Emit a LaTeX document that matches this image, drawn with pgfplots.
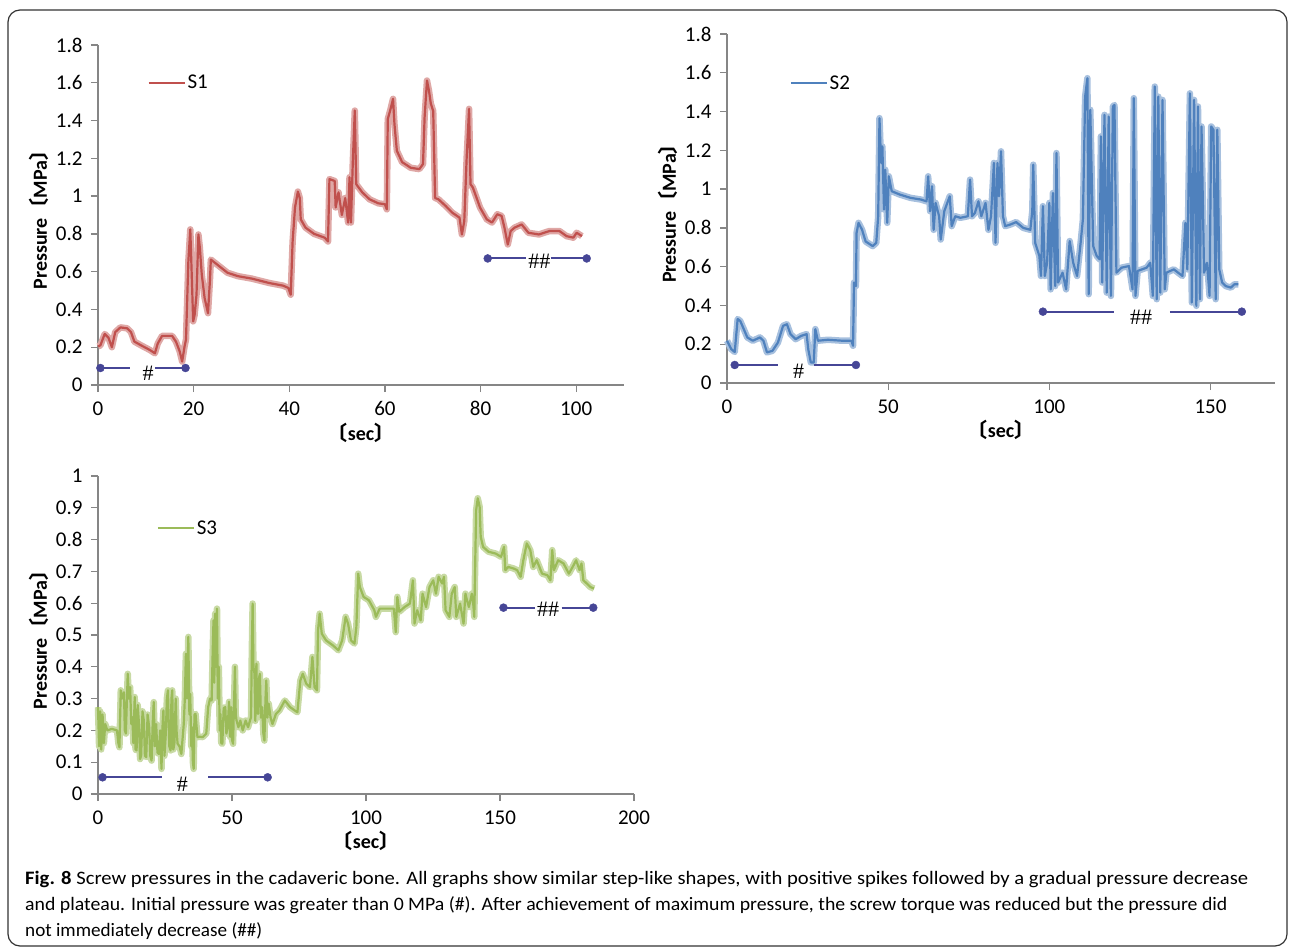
\documentclass[border=0pt]{standalone}
\usepackage{graphicx}
\usepackage{pgfplots}
\pgfplotsset{compat=1.18}
\usepackage{pgfplotstable}
\usepackage{fontspec}
\setmainfont{Carlito}
\newfontfamily\cjk{Noto Sans CJK JP}
\newfontfamily\serifhash{Liberation Serif}
\definecolor{axgray}{RGB}{134,134,134}
\definecolor{cS1}{RGB}{192,80,77}
\definecolor{cS2}{RGB}{79,129,189}
\definecolor{cS3}{RGB}{155,187,89}
\definecolor{mk}{RGB}{70,70,150}
\newcommand{\lb}{{\cjk 〔}}
\newcommand{\rb}{{\cjk 〕}}

\pgfplotstableread[row sep=\\]{
x y\\
0 0.204\\ 0.5 0.21\\ 1.4 0.27\\ 2.2 0.25\\ 2.9 0.20\\ 3.6 0.28\\ 4.7 0.305\\ 6.1 0.30\\ 6.9 0.28\\ 7.6 0.23\\
9.0 0.21\\ 10.8 0.186\\ 11.9 0.168\\ 12.5 0.22\\ 13.4 0.26\\ 15.5 0.26\\ 16.3 0.23\\ 17.1 0.177\\ 17.6 0.124\\ 18.1 0.204\\
18.4 0.24\\ 18.9 0.656\\ 19.3 0.824\\ 19.6 0.585\\ 19.9 0.337\\ 20.2 0.37\\ 20.6 0.478\\ 21.0 0.797\\ 21.3 0.726\\ 21.7 0.585\\
22.3 0.46\\ 23.0 0.38\\ 23.4 0.55\\ 23.6 0.664\\ 24.9 0.638\\ 27.1 0.594\\ 29.3 0.576\\ 32.2 0.563\\ 35.8 0.54\\ 38.7 0.526\\
39.8 0.514\\ 40.3 0.478\\ 40.7 0.76\\ 41.2 0.94\\ 41.8 1.024\\ 42.2 0.99\\ 42.4 0.877\\ 43.4 0.833\\ 45.2 0.80\\ 47.4 0.78\\
48.1 0.76\\ 48.4 1.09\\ 49.5 1.08\\ 49.7 0.94\\ 50.3 1.02\\ 51.0 0.90\\ 51.7 0.99\\ 52.3 0.86\\ 52.6 1.10\\ 52.9 0.86\\
53.3 1.19\\ 53.7 1.453\\ 54.0 1.063\\ 55.3 1.019\\ 56.8 0.983\\ 58.6 0.962\\ 60.0 0.957\\ 60.4 0.93\\ 60.6 1.408\\ 61.1 1.453\\
61.7 1.515\\ 62.0 1.38\\ 62.5 1.24\\ 63.6 1.18\\ 65.4 1.15\\ 67.2 1.143\\ 67.97 1.17\\ 68.3 1.417\\ 68.8 1.612\\ 69.2 1.56\\
69.6 1.49\\ 70.1 1.45\\ 70.5 0.99\\ 71.2 0.983\\ 72.7 0.948\\ 74.1 0.912\\ 75.6 0.886\\ 76.1 0.797\\ 76.6 0.868\\ 77.1 1.205\\
77.6 1.462\\ 77.9 1.063\\ 78.4 1.045\\ 79.9 0.939\\ 81.3 0.877\\ 82.4 0.86\\ 83.5 0.904\\ 84.4 0.895\\ 85.0 0.833\\ 85.7 0.744\\
86.3 0.815\\ 87.1 0.833\\ 88.6 0.85\\ 90.0 0.806\\ 92.2 0.797\\ 94.4 0.815\\ 96.5 0.815\\ 98.0 0.788\\ 99.4 0.78\\ 100.1 0.806\\
101.2 0.788\\
}\tabSone

\pgfplotstableread[row sep=\\]{
x y\\
0 0.218\\ 1.3 0.175\\ 2.4 0.16\\ 3.3 0.33\\ 4.1 0.32\\ 5.2 0.278\\ 6.3 0.235\\ 8.0 0.218\\ 10.2 0.235\\ 11.3 0.218\\
12.4 0.158\\ 14.1 0.166\\ 15.8 0.209\\ 17.4 0.295\\ 18.6 0.303\\ 19.7 0.252\\ 21.3 0.226\\ 23.0 0.243\\ 24.7 0.252\\ 25.2 0.175\\
26.0 0.106\\ 26.9 0.106\\ 27.4 0.278\\ 28.2 0.218\\ 31.3 0.223\\ 35.8 0.218\\ 38.6 0.218\\ 39.1 0.192\\ 39.4 0.518\\ 40.0 0.50\\
40.2 0.775\\ 40.8 0.826\\ 41.9 0.79\\ 43.0 0.73\\ 45.2 0.706\\ 46.3 0.723\\ 46.9 0.86\\ 47.3 1.366\\ 47.8 1.135\\ 48.2 1.22\\
48.7 0.895\\ 49.1 1.10\\ 49.7 0.826\\ 50.2 1.066\\ 51.1 0.989\\ 53.6 0.972\\ 56.9 0.955\\ 60.2 0.946\\ 61.9 0.937\\ 62.4 1.066\\
63.0 0.886\\ 63.6 1.015\\ 64.1 0.79\\ 64.7 0.929\\ 65.8 0.86\\ 66.3 0.74\\ 67.4 0.886\\ 69.1 0.963\\ 69.7 0.809\\ 70.8 0.86\\
72.4 0.852\\ 74.7 0.86\\ 75.4 1.049\\ 76.0 0.86\\ 76.9 0.877\\ 78.0 0.937\\ 78.9 0.86\\ 80.2 0.929\\ 81.1 0.79\\ 81.9 0.86\\
82.8 1.135\\ 83.3 0.723\\ 83.9 1.135\\ 84.4 0.963\\ 85.0 1.195\\ 85.6 0.86\\ 86.3 0.809\\ 88.0 0.818\\ 89.7 0.83\\ 91.9 0.80\\
94.1 0.79\\ 94.7 0.886\\ 95.0 1.126\\ 95.6 0.723\\ 96.9 0.655\\ 97.4 0.552\\ 98.0 0.912\\ 98.6 0.552\\ 99.3 0.62\\ 100.0 0.929\\
100.4 0.483\\ 101.1 0.98\\ 101.8 0.50\\ 102.2 1.186\\ 102.7 0.518\\ 104.1 0.569\\ 105.2 0.483\\ 106.3 0.732\\ 107.4 0.62\\ 108.6 0.552\\
109.7 0.723\\ 110.4 0.843\\ 111.1 1.477\\ 111.8 1.572\\ 112.2 0.458\\ 112.7 1.409\\ 113.6 0.706\\ 114.7 0.655\\ 115.6 0.638\\ 116.0 1.272\\
116.4 0.518\\ 117.1 1.383\\ 117.8 0.466\\ 118.4 1.374\\ 119.1 0.449\\ 119.7 1.426\\ 120.2 1.434\\ 120.8 0.569\\ 122.4 0.595\\ 124.7 0.603\\
125.8 0.483\\ 126.2 1.469\\ 126.7 0.449\\ 127.4 0.578\\ 130.2 0.595\\ 131.3 0.62\\ 132.1 0.449\\ 132.7 1.529\\ 133.3 0.432\\ 133.8 1.477\\
134.4 0.466\\ 135.1 1.46\\ 135.8 0.483\\ 136.3 0.569\\ 138.6 0.586\\ 141.3 0.552\\ 142.2 0.826\\ 142.8 0.586\\ 143.6 1.494\\ 144.2 0.415\\
144.9 1.46\\ 145.6 0.398\\ 146.1 1.426\\ 146.7 0.432\\ 147.2 1.323\\ 148.0 0.569\\ 148.9 0.62\\ 149.7 0.449\\ 150.2 1.323\\ 150.9 1.306\\
151.6 0.432\\ 152.1 1.306\\ 152.7 0.586\\ 153.6 0.518\\ 154.7 0.50\\ 156.3 0.492\\ 157.4 0.509\\ 158.6 0.509\\
}\tabStwo

\pgfplotstableread[row sep=\\]{
x y\\
0 0.273\\ 0.4 0.15\\ 0.8 0.26\\ 1.2 0.14\\ 1.7 0.25\\ 2.2 0.16\\ 2.7 0.22\\ 3.5 0.20\\ 5.1 0.205\\ 7.1 0.20\\
7.6 0.16\\ 8.0 0.147\\ 8.5 0.326\\ 9.0 0.30\\ 9.7 0.32\\ 10.0 0.20\\ 10.4 0.19\\ 10.8 0.30\\ 11.1 0.378\\ 11.5 0.30\\
12.0 0.336\\ 12.4 0.22\\ 12.8 0.242\\ 13.2 0.16\\ 13.7 0.305\\ 14.0 0.14\\ 14.4 0.137\\ 14.8 0.28\\ 15.3 0.22\\ 15.7 0.11\\
16.1 0.121\\ 16.6 0.26\\ 17.1 0.231\\ 17.5 0.12\\ 18.0 0.116\\ 18.5 0.25\\ 19.1 0.21\\ 19.5 0.12\\ 20.0 0.105\\ 20.4 0.22\\
20.8 0.289\\ 21.2 0.15\\ 21.7 0.22\\ 22.2 0.13\\ 22.7 0.126\\ 23.2 0.20\\ 23.7 0.079\\ 24.0 0.20\\ 24.4 0.263\\ 24.8 0.12\\
25.3 0.19\\ 25.7 0.30\\ 26.1 0.326\\ 26.6 0.15\\ 27.1 0.137\\ 27.4 0.30\\ 27.7 0.326\\ 28.1 0.14\\ 28.5 0.158\\ 29.0 0.30\\
29.3 0.20\\ 29.7 0.158\\ 30.4 0.15\\ 31.1 0.126\\ 32.0 0.22\\ 32.4 0.30\\ 32.8 0.441\\ 33.2 0.30\\ 33.7 0.494\\ 34.1 0.25\\
34.4 0.315\\ 34.8 0.15\\ 35.1 0.21\\ 35.4 0.10\\ 35.7 0.079\\ 36.0 0.25\\ 36.4 0.252\\ 37.1 0.179\\ 38.0 0.18\\ 39.1 0.179\\
40.4 0.19\\ 41.1 0.273\\ 41.8 0.30\\ 42.4 0.294\\ 42.8 0.45\\ 43.1 0.546\\ 43.4 0.35\\ 43.7 0.567\\ 44.0 0.40\\ 44.4 0.583\\
44.7 0.30\\ 45.1 0.40\\ 45.4 0.20\\ 45.7 0.252\\ 46.0 0.16\\ 46.4 0.158\\ 46.9 0.27\\ 47.5 0.273\\ 47.9 0.19\\ 48.4 0.21\\
48.9 0.29\\ 49.3 0.18\\ 49.7 0.273\\ 50.0 0.17\\ 50.4 0.158\\ 50.8 0.30\\ 51.1 0.40\\ 51.4 0.25\\ 51.7 0.231\\ 52.4 0.21\\
53.1 0.231\\ 54.0 0.20\\ 55.1 0.231\\ 56.0 0.21\\ 57.1 0.242\\ 57.4 0.45\\ 57.7 0.599\\ 58.0 0.40\\ 58.4 0.378\\ 58.7 0.23\\
59.1 0.41\\ 59.4 0.26\\ 59.7 0.252\\ 60.0 0.36\\ 60.4 0.378\\ 60.8 0.24\\ 61.3 0.273\\ 61.7 0.19\\ 62.1 0.168\\ 62.5 0.30\\
62.8 0.357\\ 63.2 0.24\\ 63.7 0.284\\ 64.4 0.24\\ 65.1 0.22\\ 66.4 0.252\\ 67.7 0.263\\ 69.7 0.294\\ 71.7 0.273\\ 74.4 0.257\\
75.5 0.357\\ 76.4 0.378\\ 77.7 0.347\\ 79.1 0.336\\ 80.0 0.431\\ 80.8 0.336\\ 81.7 0.326\\ 82.1 0.515\\ 82.7 0.567\\ 83.5 0.504\\
85.1 0.483\\ 87.7 0.467\\ 89.7 0.452\\ 91.1 0.483\\ 92.4 0.557\\ 93.3 0.536\\ 94.4 0.483\\ 95.7 0.473\\ 96.4 0.525\\ 97.1 0.693\\
97.7 0.651\\ 99.1 0.62\\ 101.1 0.609\\ 103.1 0.578\\ 103.7 0.557\\ 105.1 0.583\\ 107.7 0.583\\ 110.4 0.583\\ 111.1 0.509\\ 111.7 0.62\\
112.4 0.573\\ 114.4 0.588\\ 116.4 0.599\\ 117.5 0.672\\ 118.1 0.536\\ 119.1 0.578\\ 120.4 0.546\\ 121.1 0.63\\ 122.4 0.588\\ 123.7 0.651\\
125.1 0.672\\ 126.1 0.63\\ 127.1 0.683\\ 128.4 0.662\\ 129.1 0.683\\ 129.7 0.578\\ 131.1 0.557\\ 132.0 0.63\\ 133.1 0.651\\ 133.7 0.557\\
135.1 0.599\\ 136.4 0.536\\ 137.1 0.63\\ 137.7 0.609\\ 138.4 0.588\\ 139.5 0.63\\ 140.0 0.599\\ 140.4 0.557\\ 141.1 0.893\\ 141.7 0.93\\
142.4 0.903\\ 142.8 0.809\\ 143.7 0.777\\ 145.7 0.762\\ 148.4 0.756\\ 150.4 0.746\\ 151.5 0.777\\ 152.0 0.704\\ 153.1 0.714\\ 155.1 0.709\\
156.4 0.704\\ 157.7 0.683\\ 158.7 0.735\\ 160.0 0.788\\ 161.3 0.767\\ 162.4 0.714\\ 163.7 0.735\\ 164.7 0.714\\ 165.7 0.693\\ 167.7 0.688\\
168.8 0.672\\ 169.5 0.767\\ 170.1 0.704\\ 171.7 0.735\\ 173.7 0.725\\ 175.7 0.693\\ 177.1 0.714\\ 178.4 0.735\\ 179.7 0.704\\ 180.4 0.725\\
181.1 0.672\\ 182.4 0.662\\ 183.7 0.651\\ 185.1 0.646\\
}\tabSthree

\pgfplotsset{
  legend image code/.code={\draw[#1,line width=1.6pt] (0pt,0pt) -- (36pt,0pt);},
  panel/.style={scale only axis, anchor=south west, axis lines*=left,
    axis line style={draw=axgray,line width=1.3pt},
    every tick/.style={draw=axgray,line width=1.3pt},
    tick align=outside, major tick length=7pt,
    ticklabel style={font=\fontsize{21}{24}\selectfont},
    xticklabel style={yshift=-6pt},
    yticklabel style={xshift=-5pt},
    /pgf/number format/assume math mode=true,
    xlabel style={font=\bfseries\fontsize{20}{24}\selectfont},
    ylabel style={font=\bfseries\fontsize{20}{24}\selectfont},
    xlabel={\lb sec\rb}, ylabel={Pressure\lb MPa\rb},
    legend style={draw=none,fill=none,font=\fontsize{21}{24}\selectfont,anchor=west,inner sep=0pt},
    clip=false},
  halo/.style={line width=6.5pt, forget plot, line join=round},
  core/.style={line width=2.2pt, line join=round},
  mkl/.style={mk, line width=2pt, forget plot},
  mkd/.style={mk, only marks, mark=*, mark size=4pt, forget plot},
}

\begin{document}
\begin{tikzpicture}[x=1pt,y=1pt]
\path[use as bounding box] (0pt,0pt) rectangle (1290pt,-949pt);
\draw[line width=1.2pt, rounded corners=12pt, black!80] (8pt,-10pt) rectangle (1287pt,-946pt);

% Panel 1
\begin{axis}[panel, at={(98pt,-385pt)}, width=526pt, height=340pt,
  xmin=0, xmax=110, ymin=0, ymax=1.8,
  xtick={0,20,40,60,80,100}, ytick={0,0.2,0.4,0.6,0.8,1,1.2,1.4,1.6,1.8},
  yticklabels={0,0.2,0.4,0.6,0.8,1,1.2,1.4,1.6,1.8},
  legend style={at={(axis cs:10.4,1.6)}}]
\addplot[halo, cS1!50] table[x=x,y=y] {\tabSone};
\addplot[core, cS1] table[x=x,y=y] {\tabSone};
\addlegendentry{S1}
\addplot[mkl] coordinates {(0.5,0.09) (6.7,0.09)};
\addplot[mkl] coordinates {(11.9,0.09) (18.3,0.09)};
\addplot[mkd] coordinates {(0.5,0.09) (18.3,0.09)};
\addplot[mkl] coordinates {(81.5,0.67) (89.4,0.67)};
\addplot[mkl] coordinates {(94.7,0.67) (102.2,0.67)};
\addplot[mkd] coordinates {(81.5,0.67) (102.2,0.67)};
\node[font=\serifhash\fontsize{22}{24}\selectfont] at (axis cs:10.5,0.06) {\#};
\node[font=\serifhash\fontsize{22}{24}\selectfont] at (axis cs:92.3,0.655) {\#\#};
\end{axis}

% Panel 2
\begin{axis}[panel, at={(727pt,-383pt)}, width=548pt, height=349pt,
  xmin=0, xmax=170, ymin=0, ymax=1.8,
  xtick={0,50,100,150}, ytick={0,0.2,0.4,0.6,0.8,1,1.2,1.4,1.6,1.8},
  yticklabels={0,0.2,0.4,0.6,0.8,1,1.2,1.4,1.6,1.8},
  legend style={at={(axis cs:19.5,1.547)}}]
\addplot[halo, cS2!50] table[x=x,y=y] {\tabStwo};
\addplot[core, cS2] table[x=x,y=y] {\tabStwo};
\addlegendentry{S2}
\addplot[mkl] coordinates {(2.4,0.093) (15.8,0.093)};
\addplot[mkl] coordinates {(26.9,0.093) (40.0,0.093)};
\addplot[mkd] coordinates {(2.4,0.093) (40.0,0.093)};
\addplot[mkl] coordinates {(98.0,0.368) (120.0,0.368)};
\addplot[mkl] coordinates {(137.4,0.368) (159.7,0.368)};
\addplot[mkd] coordinates {(98.0,0.368) (159.7,0.368)};
\node[font=\serifhash\fontsize{22}{24}\selectfont] at (axis cs:22.2,0.06) {\#};
\node[font=\serifhash\fontsize{22}{24}\selectfont] at (axis cs:128.5,0.34) {\#\#};
\end{axis}

% Panel 3
\begin{axis}[panel, at={(98pt,-794pt)}, width=536pt, height=318pt,
  xmin=0, xmax=200, ymin=0, ymax=1,
  xtick={0,50,100,150,200}, ytick={0,0.1,0.2,0.3,0.4,0.5,0.6,0.7,0.8,0.9,1},
  yticklabels={0,0.1,0.2,0.3,0.4,0.5,0.6,0.7,0.8,0.9,1},
  legend style={at={(axis cs:22,0.836)}}]
\addplot[halo, cS3!55] table[x=x,y=y] {\tabSthree};
\addplot[core, cS3] table[x=x,y=y] {\tabSthree};
\addlegendentry{S3}
\addplot[mkl] coordinates {(1.7,0.0525) (23.7,0.0525)};
\addplot[mkl] coordinates {(41.1,0.0525) (63.3,0.0525)};
\addplot[mkd] coordinates {(1.7,0.0525) (63.3,0.0525)};
\addplot[mkl] coordinates {(151.3,0.586) (163.1,0.586)};
\addplot[mkl] coordinates {(173.0,0.586) (184.8,0.586)};
\addplot[mkd] coordinates {(151.3,0.586) (184.8,0.586)};
\node[font=\serifhash\fontsize{22}{24}\selectfont] at (axis cs:31.5,0.03) {\#};
\node[font=\serifhash\fontsize{22}{24}\selectfont] at (axis cs:168,0.58) {\#\#};
\end{axis}

\node[anchor=north west, align=left, inner sep=0pt, font=\fontsize{19}{26}\selectfont] at (25pt,-871pt)
{\resizebox{1223pt}{\height}{\textbf{Fig. 8} Screw pressures in the cadaveric bone. All graphs show similar step-like shapes, with positive spikes followed by a gradual pressure decrease}\\
\resizebox{1202pt}{\height}{and plateau. Initial pressure was greater than 0 MPa (\#). After achievement of maximum pressure, the screw torque was reduced but the pressure did}\\
\resizebox{237pt}{\height}{not immediately decrease (\#\#)}};
\end{tikzpicture}
\end{document}
